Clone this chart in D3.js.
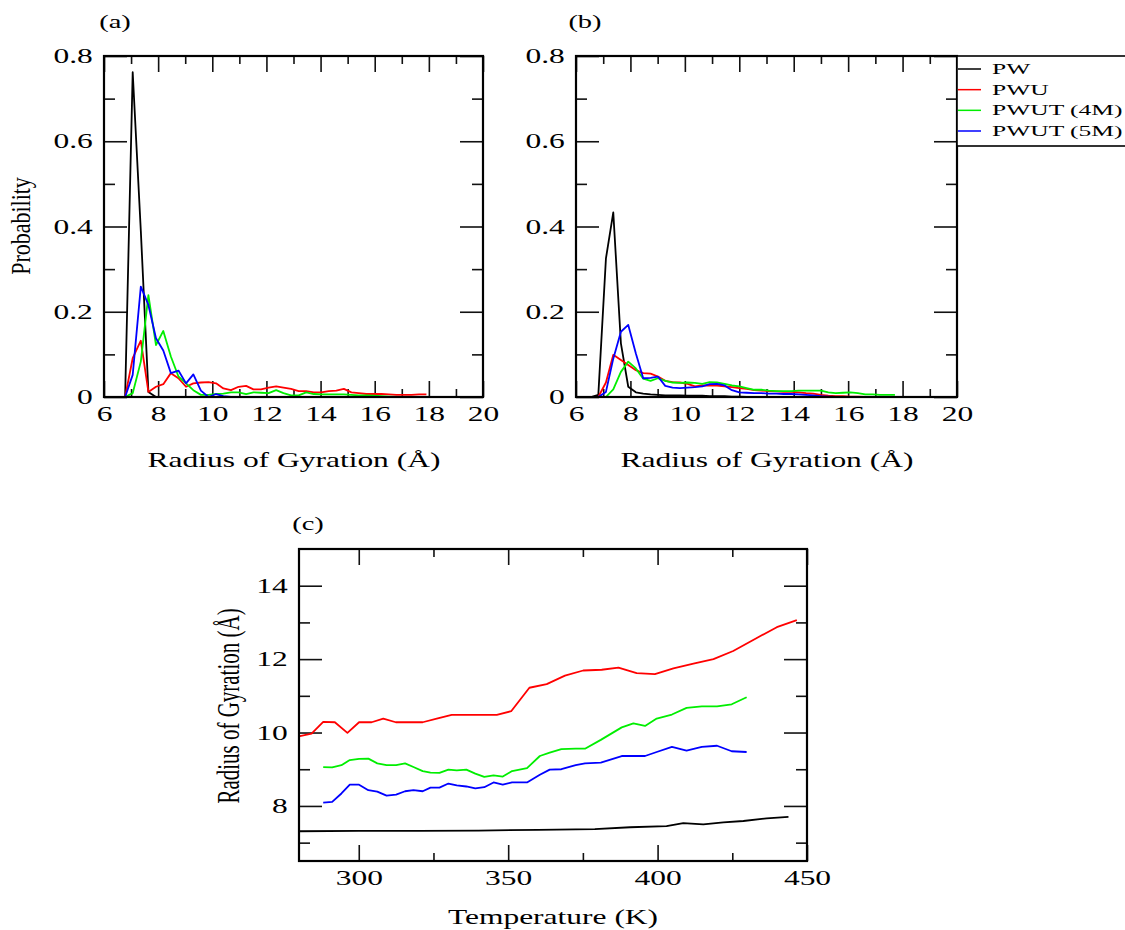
<!DOCTYPE html>
<html>
<head>
<meta charset="utf-8">
<script src="https://cdn.jsdelivr.net/npm/d3@7"></script>
<style>
  body { margin: 0; background: #fff; }
  svg text { font-family: "Liberation Serif", "Times New Roman", serif; fill: #000; }
</style>
</head>
<body>
<svg id="fig" width="1125" height="930"></svg>
<script>
// ---- data ----
// (a) radius of gyration histograms (bins in Angstrom)
const binsA = [6.78, 7.06, 7.36, 7.64, 7.92, 8.19, 8.47, 8.75, 9.03, 9.30, 9.58, 9.86, 10.14, 10.41,
  10.69, 10.97, 11.25, 11.52, 11.80, 12.08, 12.36, 12.63, 12.91, 13.19, 13.47, 13.75, 14.02, 14.30,
  14.58, 14.86, 15.14, 15.41, 15.69, 15.97, 16.25, 16.52, 16.80, 17.08, 17.36, 17.64, 17.91];
const pwA    = [0, 0.762, 0.39, 0.012, 0];
const pwuA   = [0, 0.091, 0.132, 0.012, 0.024, 0.030, 0.056, 0.044, 0.024, 0.032, 0.034, 0.035, 0.032, 0.020,
  0.016, 0.024, 0.026, 0.018, 0.018, 0.022, 0.025, 0.022, 0.019, 0.014, 0.014, 0.011, 0.011, 0.014,
  0.015, 0.019, 0.011, 0.009, 0.007, 0.007, 0.007, 0.006, 0.005, 0.005, 0.005, 0.006, 0.006];
const pwut4A = [0, 0.009, 0.083, 0.239, 0.122, 0.155, 0.095, 0.048, 0.032, 0.016, 0.005, 0.005, 0.007, 0.008,
  0.011, 0.011, 0.007, 0.011, 0.010, 0.009, 0.016, 0.009, 0.004, 0.004, 0.011, 0.007, 0.006, 0.006,
  0.006, 0.006, 0.005, 0.004, 0.004, 0.003, 0.002, 0.001, 0, 0];
const pwut5A = [0, 0.052, 0.259, 0.216, 0.138, 0.109, 0.056, 0.062, 0.032, 0.053, 0.015, 0, 0.007, 0.002,
  0, 0, 0, 0, 0, 0];

// (b)
const binsB = [6.55, 6.82, 7.10, 7.37, 7.65, 7.92, 8.20, 8.47, 8.74, 9.01, 9.28, 9.55, 9.82, 10.10, 10.37,
  10.64, 10.91, 11.18, 11.46, 11.73, 12.00, 12.27, 12.55, 12.82, 13.09, 13.36, 13.63, 13.91, 14.18,
  14.45, 14.72, 15.00, 15.27, 15.54, 15.81, 16.08, 16.36, 16.63, 16.90, 17.17, 17.44, 17.72];
const pwB    = [0, 0.005, 0.325, 0.433, 0.126, 0.024, 0.011, 0.008, 0.006, 0.005, 0.004, 0.004, 0.004,
  0.003, 0.003, 0.003, 0.002, 0.002, 0.002, 0.001, 0.001, 0];
const pwuB   = [null, 0, 0.034, 0.099, 0.087, 0.075, 0.063, 0.056, 0.055, 0.048, 0.038, 0.035, 0.034,
  0.031, 0.025, 0.027, 0.027, 0.027, 0.025, 0.023, 0.021, 0.019, 0.016, 0.015, 0.014, 0.013, 0.012,
  0.012, 0.011, 0.009, 0.008, 0.005, 0.003, 0.002, 0.002, 0.001, 0.001, 0];
const pwut4B = [null, null, 0, 0.018, 0.059, 0.083, 0.067, 0.043, 0.038, 0.044, 0.038, 0.034, 0.033,
  0.034, 0.033, 0.031, 0.035, 0.034, 0.031, 0.027, 0.025, 0.021, 0.017, 0.017, 0.015, 0.014, 0.014,
  0.014, 0.015, 0.015, 0.015, 0.015, 0.011, 0.009, 0.010, 0.011, 0.009, 0.006, 0.006, 0.005, 0.005, 0.005];
const pwut5B = [null, 0, 0.012, 0.090, 0.153, 0.169, 0.102, 0.044, 0.045, 0.048, 0.026, 0.022, 0.021,
  0.022, 0.023, 0.025, 0.030, 0.031, 0.027, 0.016, 0.011, 0.010, 0.009, 0.009, 0.008, 0.008, 0.007,
  0.007, 0.006, 0.005, 0.004, 0.002, 0.001, 0];

// (c) average radius of gyration vs temperature
const tempPW  = [280, 300, 320, 340, 360, 379, 390.8, 403, 408.6, 415.3, 422, 428.7, 436.5, 443.8];
const rgPW    = [7.31, 7.32, 7.32, 7.33, 7.35, 7.37, 7.42, 7.45, 7.53, 7.50, 7.55, 7.59, 7.66, 7.70];
const tempPWU = [280.3, 284.2, 288.1, 292.0, 296.2, 300.1, 304.3, 308.2, 312.4, 316.6, 321.4, 326.1,
  331.1, 335.6, 340.6, 346.2, 351.0, 357.1, 362.9, 369.0, 375.1, 381.3, 386.9, 393.0, 399.1, 405.3,
  412.0, 418.7, 425.3, 432.6, 439.9, 446.6];
const rgPWU   = [9.90, 9.97, 10.29, 10.28, 9.99, 10.28, 10.28, 10.38, 10.28, 10.28, 10.28, 10.38, 10.48,
  10.48, 10.48, 10.48, 10.58, 11.22, 11.32, 11.55, 11.69, 11.71, 11.77, 11.62, 11.59, 11.75, 11.88,
  12.00, 12.22, 12.55, 12.87, 13.06];
const tempPWUT = [288.1, 291.1, 294.2, 297.0, 300.1, 303.2, 306.2, 309.3, 312.5, 315.5, 318.3, 321.4,
  324.0, 327.0, 330.0, 332.8, 336.0, 339.0, 342.0, 345.1, 348.2, 351.3, 356.3, 360.6, 363.9, 367.8,
  372.6, 375.7, 381.0, 388.0, 391.9, 395.8, 399.7, 404.8, 409.7, 414.8, 419.9, 424.8, 429.8];
const rgPWUT4 = [9.06, 9.05, 9.11, 9.25, 9.28, 9.29, 9.16, 9.11, 9.11, 9.16, 9.06, 8.95, 8.91, 8.90,
  8.99, 8.97, 8.99, 8.88, 8.79, 8.83, 8.80, 8.95, 9.03, 9.36, 9.45, 9.55, 9.56, 9.56, 9.80, 10.14,
  10.25, 10.18, 10.38, 10.49, 10.67, 10.71, 10.71, 10.77, 10.96];
const rgPWUT5 = [8.09, 8.11, 8.34, 8.58, 8.58, 8.43, 8.39, 8.28, 8.31, 8.40, 8.43, 8.40, 8.50, 8.50,
  8.61, 8.56, 8.53, 8.48, 8.51, 8.64, 8.58, 8.64, 8.64, 8.85, 8.99, 9.00, 9.11, 9.16, 9.18, 9.36,
  9.36, 9.36, 9.47, 9.61, 9.51, 9.61, 9.64, 9.49, 9.47];

const seriesNames  = ['PW', 'PWU', 'PWUT (4M)', 'PWUT (5M)'];
const seriesColors = ['#000000', '#ff0000', '#00ee00', '#0000ff'];

const rgTicksMajor = [6, 8, 10, 12, 14, 16, 18, 20];
const rgTicksMinor = [7, 9, 11, 13, 15, 17, 19];
const probTicksMajor = [0, 0.2, 0.4, 0.6, 0.8];
const probTicksMinor = [0.1, 0.3, 0.5, 0.7];
const tTicksMajor = [300, 350, 400, 450];
const tTicksMinor = [325, 375, 425];
const rTicksMajor = [8, 10, 12, 14];
const rTicksMinor = [7, 9, 11, 13];

// ---- drawing ----
const svg = d3.select('#fig');
const SX = 1.5; // the original figure is stretched sideways

function panel(c) {
  const g = svg.append('g');
  const x = d3.scaleLinear().domain(c.xDomain).range(c.xRange);
  const y = d3.scaleLinear().domain(c.yDomain).range(c.yRange);
  const [left, right] = c.xRange, [bottom, top] = c.yRange;

  // inward ticks on all four sides
  const ticks = (axis, vals, len, tx, ty) => g.append('g')
    .attr('transform', `translate(${tx},${ty})`)
    .call(axis.tickValues(vals).tickSize(-len).tickFormat(''))
    .call(a => a.select('.domain').remove())
    .call(a => a.selectAll('line').attr('stroke', '#111').attr('stroke-width', 1.6));
  ticks(d3.axisBottom(x), c.xMajor, 16, 0, bottom);
  ticks(d3.axisBottom(x), c.xMinor, 8, 0, bottom);
  ticks(d3.axisTop(x), c.xMajor, 16, 0, top);
  ticks(d3.axisTop(x), c.xMinor, 8, 0, top);
  ticks(d3.axisLeft(y), c.yMajor, 23, left, 0);
  ticks(d3.axisLeft(y), c.yMinor, 11, left, 0);
  ticks(d3.axisRight(y), c.yMajor, 23, right, 0);
  ticks(d3.axisRight(y), c.yMinor, 11, right, 0);

  // tick labels
  g.append('g').attr('transform', `translate(0,${bottom})`)
    .call(d3.axisBottom(x).tickValues(c.xMajor).tickSize(0).tickPadding(c.xPad).tickFormat(c.xFmt))
    .call(a => a.select('.domain').remove())
    .selectAll('text').style('font-size', '21px').attr('transform', `scale(${SX},1)`);
  g.append('g').attr('transform', `translate(${left},0)`)
    .call(d3.axisLeft(y).tickValues(c.yMajor).tickSize(0).tickPadding(7.5).tickFormat(c.yFmt))
    .call(a => a.select('.domain').remove())
    .selectAll('text').style('font-size', '21px').attr('transform', `scale(${SX},1)`);

  // data
  const line = d3.line().defined(d => d[1] != null).x(d => x(d[0])).y(d => y(d[1]));
  c.series.forEach(s => {
    const pts = s.ys.map((v, i) => [s.xs[i], v]);
    g.append('path').datum(pts)
      .attr('fill', 'none').attr('stroke', s.color).attr('stroke-width', 1.8)
      .attr('stroke-linejoin', 'round').attr('d', line);
  });

  // frame
  g.append('rect').attr('x', left).attr('y', top)
    .attr('width', right - left).attr('height', bottom - top)
    .attr('fill', 'none').attr('stroke', '#000').attr('stroke-width', 2.2);

  // titles
  g.append('text').attr('text-anchor', 'middle').style('font-size', '21px')
    .attr('transform', `translate(${c.xTitlePos[0]},${c.xTitlePos[1]}) scale(${SX},1)`)
    .text(c.xTitle);
  if (c.yTitle) {
    g.append('text').attr('text-anchor', 'middle').style('font-size', c.yTitleSize)
      .attr('transform', `translate(${c.yTitlePos[0]},${c.yTitlePos[1]}) scale(${c.yTitleSX},1) rotate(-90)`)
      .text(c.yTitle);
  }
  g.append('text').attr('text-anchor', 'middle').style('font-size', '19px')
    .attr('transform', `translate(${c.tagPos[0]},${c.tagPos[1]}) scale(${SX},1)`)
    .text(c.tag);
  return g;
}

const probFmt = d => d === 0 ? '0' : d3.format('.1f')(d);
const mk = (xs, list) => list.map((ys, i) => ({ xs, ys, color: seriesColors[i] }));

panel({
  xDomain: [6, 20], xRange: [104, 483], yDomain: [0, 0.8], yRange: [397, 56],
  xMajor: rgTicksMajor, xMinor: rgTicksMinor, yMajor: probTicksMajor, yMinor: probTicksMinor,
  xPad: 9, xFmt: d3.format('d'), yFmt: probFmt,
  series: mk(binsA, [pwA, pwuA, pwut4A, pwut5A]),
  xTitle: 'Radius of Gyration (Å)', xTitlePos: [294, 467],
  yTitle: 'Probability', yTitlePos: [30, 226], yTitleSize: '22px', yTitleSX: 1.2,
  tag: '(a)', tagPos: [115, 28]
});

panel({
  xDomain: [6, 20], xRange: [576, 957], yDomain: [0, 0.8], yRange: [397, 56],
  xMajor: rgTicksMajor, xMinor: rgTicksMinor, yMajor: probTicksMajor, yMinor: probTicksMinor,
  xPad: 9, xFmt: d3.format('d'), yFmt: probFmt,
  series: mk(binsB, [pwB, pwuB, pwut4B, pwut5B]),
  xTitle: 'Radius of Gyration (Å)', xTitlePos: [767, 467],
  tag: '(b)', tagPos: [585, 28]
});

panel({
  xDomain: [280, 450], xRange: [299, 807], yDomain: [6.5, 15], yRange: [861, 549],
  xMajor: tTicksMajor, xMinor: tTicksMinor, yMajor: rTicksMajor, yMinor: rTicksMinor,
  xPad: 9, xFmt: d3.format('d'), yFmt: d3.format('d'),
  series: [
    { xs: tempPW, ys: rgPW, color: seriesColors[0] },
    { xs: tempPWU, ys: rgPWU, color: seriesColors[1] },
    { xs: tempPWUT, ys: rgPWUT4, color: seriesColors[2] },
    { xs: tempPWUT, ys: rgPWUT5, color: seriesColors[3] }
  ],
  xTitle: 'Temperature (K)', xTitlePos: [553, 924],
  yTitle: 'Radius of Gyration (Å)', yTitlePos: [239, 706], yTitleSize: '21px', yTitleSX: 1.5,
  tag: '(c)', tagPos: [308, 530]
});

// legend (runs off the right edge, as in the original)
const legend = svg.append('g');
legend.append('rect').attr('x', 957).attr('y', 56).attr('width', 200).attr('height', 90)
  .attr('fill', '#fff').attr('stroke', '#000').attr('stroke-width', 1.6);
const legendY = d3.scalePoint().domain(seriesNames).range([69, 131]);
seriesNames.forEach((name, i) => {
  legend.append('line').attr('x1', 958).attr('x2', 981)
    .attr('y1', legendY(name)).attr('y2', legendY(name))
    .attr('stroke', seriesColors[i]).attr('stroke-width', 1.5);
  legend.append('text').style('font-size', '15px')
    .attr('transform', `translate(992,${legendY(name) + 5}) scale(1.7,1)`)
    .text(name);
});
</script>
</body>
</html>
